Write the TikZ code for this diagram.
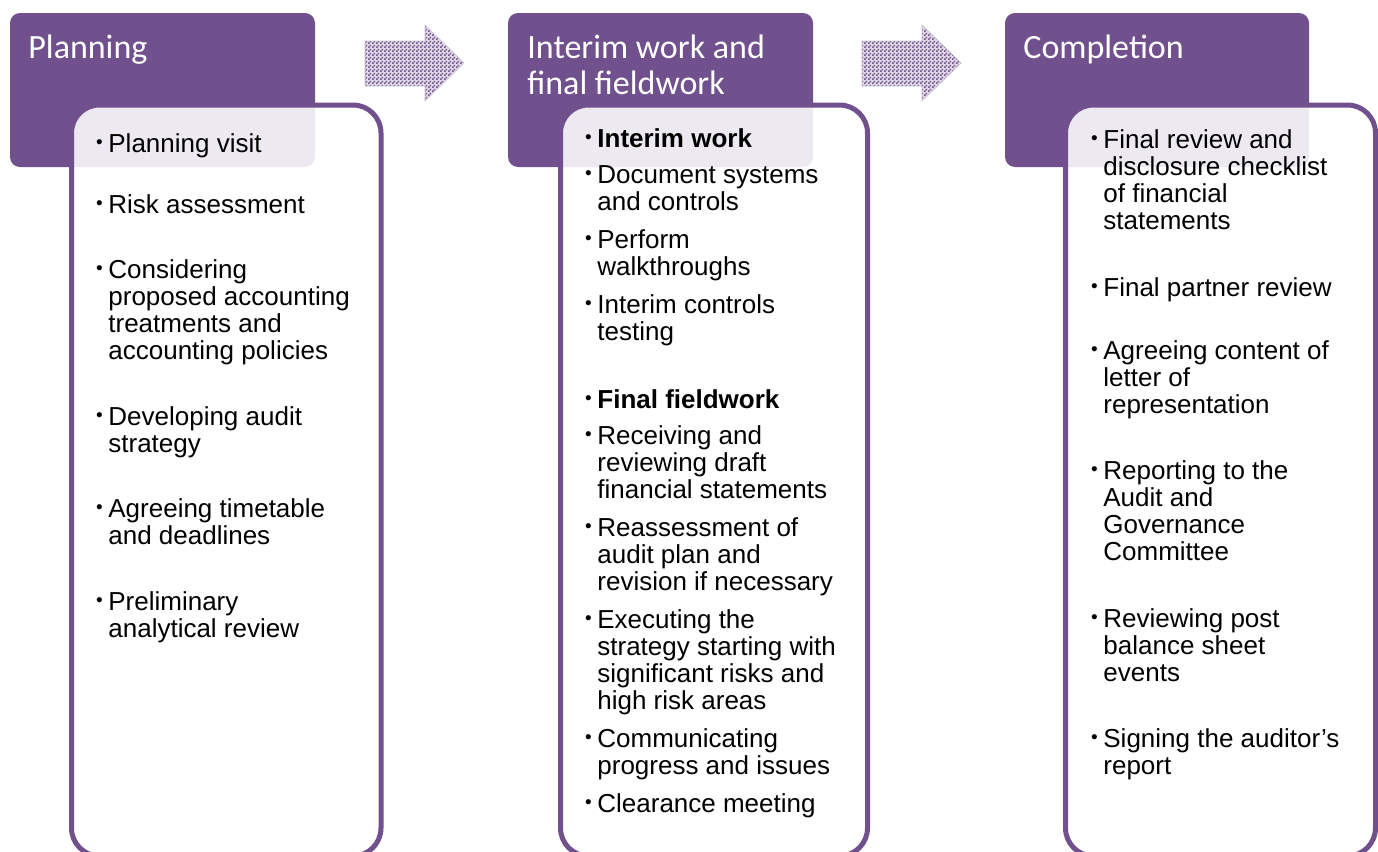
\documentclass[tikz,border=0pt]{standalone}
\usepackage{fontspec}
\setmainfont{Liberation Sans}
\newfontfamily\headfont{Carlito}
\usetikzlibrary{patterns}
\definecolor{auditpurple}{RGB}{112,81,141}
\pgfdeclarepatternformonly{finechecker}{\pgfpointorigin}{\pgfpoint{2pt}{2pt}}{\pgfpoint{2pt}{2pt}}{%
  \pgfpathrectangle{\pgfpointorigin}{\pgfpoint{1pt}{1pt}}%
  \pgfpathrectangle{\pgfpoint{1pt}{1pt}}{\pgfpoint{1pt}{1pt}}%
  \pgfusepath{fill}}
\newcommand{\itm}[1]{\strut\llap{\raisebox{1.8pt}{\fontsize{9.5}{9.5}\selectfont\textbullet}\hspace{2.8pt}}#1}
\tikzset{
  head/.style={fill=auditpurple,rounded corners=5pt},
  panel/.style={draw=auditpurple,line width=2.5pt,fill=white,fill opacity=0.88,rounded corners=14pt},
  headtext/.style={anchor=north west,yshift=12.6pt,inner sep=0pt,text=white,align=left,
    font=\headfont\fontsize{17}{18}\selectfont},
  bullettext/.style={anchor=north west,yshift=9.45pt,inner sep=0pt,align=left,
    font=\fontsize{13}{13.5}\selectfont},
  flow/.style={preaction={fill=auditpurple!22},pattern=finechecker,pattern color=auditpurple,
    draw=auditpurple!35,line width=0.3pt}
}

\begin{document}
\begin{tikzpicture}[x=0.5pt,y=-0.5pt]
  \useasboundingbox (0,0) rectangle (1378,852);
  \clip (0,0) rectangle (1378,852);
  % arrows between the stages
  \foreach \dx in {0,497}{
    \begin{scope}[shift={(\dx,0)}]
      \draw[flow] (365,41)--(425,41)--(425,25)--(464,63)--(425,101)--(425,86)--(365,86)--cycle;
    \end{scope}
  }
  % planning
  \begin{scope}[shift={(10,0)}]
    \fill[head] (0,13) rectangle (305,167);
    \draw[panel] (61.5,105) rectangle (371,856);
    \node[headtext] (planhead) at (18,58) {\strut Planning};
    \node[bullettext] (plan1) at (98,152) {\itm{Planning visit}};
    \node[bullettext] (plan2) at (98,213) {\itm{Risk assessment}};
    \node[bullettext] (plan3) at (98,278) {\itm{Considering}\\proposed accounting\\treatments and\\accounting policies};
    \node[bullettext] (plan4) at (98,425) {\itm{Developing audit}\\strategy};
    \node[bullettext] (plan5) at (98,517) {\itm{Agreeing timetable}\\and deadlines};
    \node[bullettext] (plan6) at (98,610) {\itm{Preliminary}\\analytical review};
  \end{scope}
  % interim work and final fieldwork
  \begin{scope}[shift={(508,0)}]
    \fill[head] (0,13) rectangle (305,167);
    \draw[panel] (52.5,105) rectangle (359.5,856);
    \node[headtext] (fieldhead) at (19,58) {\strut Interim work and\\final fieldwork};
    \node[bullettext] (field1) at (89,147) {\itm{\textbf{Interim work}}};
    \node[bullettext] (field2) at (89,183) {\itm{Document systems}\\and controls};
    \node[bullettext] (field3) at (89,248) {\itm{Perform}\\walkthroughs};
    \node[bullettext] (field4) at (89,313) {\itm{Interim controls}\\testing};
    \node[bullettext] (field5) at (89,408) {\itm{\textbf{Final fieldwork}}};
    \node[bullettext] (field6) at (89,444) {\itm{Receiving and}\\reviewing draft\\financial statements};
    \node[bullettext] (field7) at (89,536) {\itm{Reassessment of}\\audit plan and\\revision if necessary};
    \node[bullettext] (field8) at (89,628) {\itm{Executing the}\\strategy starting with\\significant risks and\\high risk areas};
    \node[bullettext] (field9) at (89,747) {\itm{Communicating}\\progress and issues};
    \node[bullettext] (field10) at (89,812) {\itm{Clearance meeting}};
  \end{scope}
  % completion
  \begin{scope}[shift={(1005,0)}]
    \fill[head] (0,13) rectangle (304,167);
    \draw[panel] (60.5,105) rectangle (370.5,856);
    \node[headtext] (comphead) at (18,58) {\strut Completion};
    \node[bullettext] (comp1) at (98,148) {\itm{Final review and}\\disclosure checklist\\of financial\\statements};
    \node[bullettext] (comp2) at (98,296) {\itm{Final partner review}};
    \node[bullettext] (comp3) at (98,359) {\itm{Agreeing content of}\\letter of\\representation};
    \node[bullettext] (comp4) at (98,479) {\itm{Reporting to the}\\Audit and\\Governance\\Committee};
    \node[bullettext] (comp5) at (98,627) {\itm{Reviewing post}\\balance sheet\\events};
    \node[bullettext] (comp6) at (98,747) {\itm{Signing the auditor’s}\\report};
  \end{scope}
\end{tikzpicture}
\end{document}
